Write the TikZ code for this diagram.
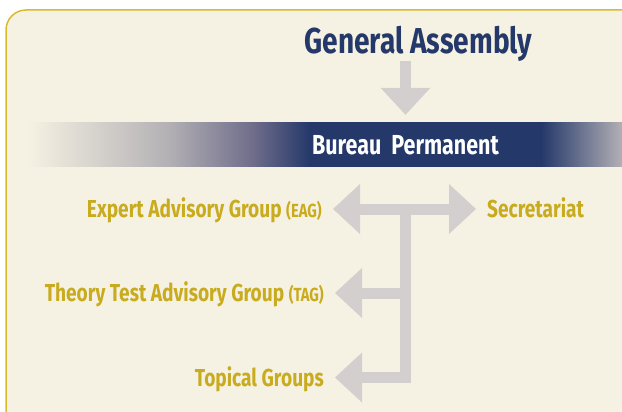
\documentclass[tikz,border=0pt]{standalone}
\usepackage{fontspec}
\setmainfont{Fira Sans}[FakeStretch=0.78]
\usepackage{tikz}
\usetikzlibrary{positioning,arrows.meta}

\definecolor{navy}{HTML}{24386A}
\definecolor{gold}{HTML}{C8AB1F}
\definecolor{rim}{HTML}{D9BC2E}
\definecolor{cream}{HTML}{F6F2E3}
\definecolor{arrowgray}{HTML}{D3CFCF}
\definecolor{barmid}{HTML}{B4B1B5}
\definecolor{barlow}{HTML}{6F6D8A}
\definecolor{barend}{HTML}{B3B0B5}

% bar runs from x=27 (25bp) to x=622 (75bp)
\pgfdeclarehorizontalshading{barshade}{100bp}{color(0bp)=(cream); color(25bp)=(cream);
    color(36.8bp)=(barmid); color(44bp)=(barlow); color(48.8bp)=(navy);
    color(68.2bp)=(navy); color(75bp)=(barend); color(100bp)=(barend)}

\begin{document}
\begin{tikzpicture}[x=1pt,y=-1pt]
    \tikzstyle{heading}=[font=\bfseries\fontsize{36}{40}\selectfont, text=navy, inner sep=0pt, anchor=base]
    \tikzstyle{barlabel}=[font=\bfseries\fontsize{27.5}{30}\selectfont, text=white, inner xsep=0pt, inner ysep=20pt, text height=19pt, text depth=0pt]
    \tikzstyle{group}=[font=\bfseries\fontsize{24.5}{27}\selectfont, text=gold, inner xsep=11pt, inner ysep=0pt, text height=17pt, text depth=0pt]
    \tikzstyle{bigarrow}=[draw=arrowgray, line width=11pt, line join=miter, >={Triangle[width=50pt,length=27pt,line width=0pt]}]
    \newcommand{\abbr}[1]{{\fontsize{19}{20}\selectfont #1}}

    \useasboundingbox (0,0) rectangle (622,412);
    \clip (0,0) rectangle (622,412);
    \draw[rim, line width=1.5pt, fill=cream, rounded corners=20pt] (6,10) rectangle (660,450);

    % bar
    \shade[shading=barshade] (27,122.7) rectangle (622,166);

    \node[heading] (ga) at (418.5,53.3) {General Assembly};
    \node[barlabel] (bureau) at (405.5,144.5) {Bureau\ \ Permanent};

    \node[group, anchor=west] (secretariat) at (476,209) {Secretariat};
    \node[group, anchor=east] (eag) at (333,209) {Expert Advisory Group \abbr{(EAG)}};
    \node[group, anchor=east] (tag) at (335,293) {Theory Test Advisory Group \abbr{(TAG)}};
    \node[group, anchor=east] (topical) at (335,377.5) {Topical Groups};
    \coordinate (hub) at (405.5,209);

    \draw[bigarrow,->] (ga.south -| bureau.north) -- (bureau.north);
    \draw[bigarrow,<->] (eag.east) -- (secretariat.west);
    \draw[bigarrow,->] (hub) |- (topical.east);
    \draw[bigarrow,->] (hub |- tag.east) -- (tag.east);
\end{tikzpicture}
\end{document}
